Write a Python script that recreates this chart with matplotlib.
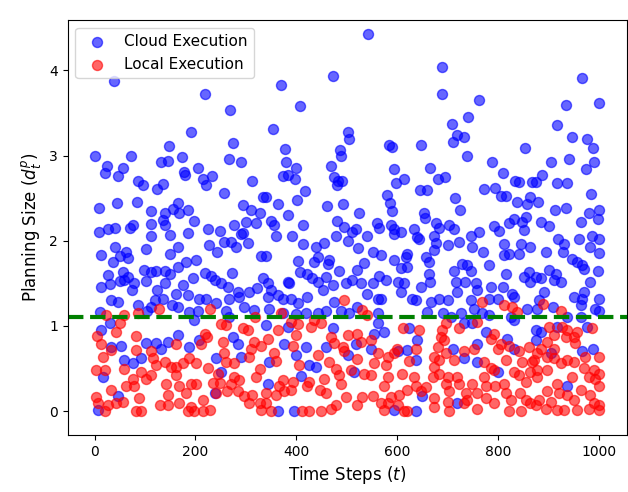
import matplotlib
matplotlib.use("Agg")
import matplotlib.pyplot as plt
import numpy as np

# Cloud execution points: (time step, planning size)
cloud_points = [
(38,3.87),(1,3.00),(24,2.88),(21,2.79),(56,2.85),(46,2.76),(72,3.00),(148,3.11),(132,2.93),(146,2.94),
(87,2.70),(96,2.66),(124,2.61),(135,2.67),(8,2.38),(44,2.44),(85,2.46),(112,2.35),(139,2.32),(155,2.37),
(8,2.10),(26,2.14),(41,2.15),(71,2.15),(77,2.18),(112,2.20),(135,2.24),(139,2.19),(112,2.06),(149,2.07),
(40,1.93),(13,1.83),(51,1.82),(63,1.87),(66,1.80),(101,1.90),(149,1.85),(36,1.75),(26,1.60),(56,1.63),
(66,1.57),(79,1.50),(50,1.53),(59,1.54),(98,1.66),(111,1.63),(122,1.65),(139,1.64),(149,1.61),(102,1.53),
(139,1.50),(30,1.49),(12,1.46),(74,1.42),(124,1.42),(33,1.30),(46,1.28),(86,1.25),(119,1.30),(135,1.32),
(104,1.18),(112,1.22),(10,1.16),(153,1.24),(30,1.03),(13,0.95),(53,0.77),(33,0.75),(102,0.80),(122,0.80),
(132,0.73),(145,0.81),(59,0.60),(76,0.56),(92,0.62),(16,0.40),(46,0.18),(7,0.01),
(218,3.72),(269,3.53),(191,3.28),(274,3.15),(267,2.96),(290,2.93),(173,2.98),(178,2.81),(180,2.77),(206,2.86),
(214,2.73),(233,2.76),(221,2.65),(312,2.70),(257,2.56),(333,2.51),(166,2.44),(168,2.32),(186,2.36),(294,2.42),
(310,2.36),(327,2.32),(198,2.23),(300,2.22),(320,2.21),(277,2.19),(224,2.14),(248,2.11),(294,2.09),(186,2.09),
(290,2.08),(166,1.93),(226,1.95),(243,1.87),(257,1.98),(271,1.98),(281,1.93),(304,1.97),(330,1.82),(182,1.75),
(201,1.77),(165,1.69),(218,1.62),(231,1.59),(238,1.54),(195,1.56),(272,1.62),(251,1.50),(264,1.46),(284,1.40),
(307,1.40),(322,1.44),(333,1.56),(175,1.48),(162,1.38),(185,1.36),(208,1.32),(221,1.32),(241,1.27),(267,1.32),
(287,1.34),(297,1.22),(317,1.19),(165,1.22),(188,1.16),(205,1.18),(261,1.18),(198,1.07),(267,1.10),(165,0.89),
(208,0.83),(187,0.75),(274,0.87),(284,0.79),(241,0.62),(290,0.64),(251,0.46),(238,0.21),
(473,3.94),(370,3.83),(408,3.58),(353,3.31),(503,3.28),(505,3.20),(378,3.08),(487,3.06),(488,2.99),(380,2.93),
(399,2.85),(469,2.88),(373,2.76),(383,2.77),(397,2.73),(475,2.75),(482,2.70),(490,2.70),(480,2.65),(417,2.58),
(340,2.51),(401,2.48),(363,2.43),(460,2.41),(492,2.43),(383,2.30),(350,2.23),(356,2.19),(414,2.19),(481,2.23),
(495,2.16),(360,2.06),(391,2.05),(479,2.06),(511,2.10),
(414,1.96),(439,1.93),(454,1.97),(502,2.00),(340,1.82),(403,1.76),(436,1.75),(442,1.81),(465,1.77),(462,1.73),
(485,1.65),(408,1.63),(422,1.61),(432,1.56),(442,1.52),(458,1.57),(498,1.50),(511,1.54),(343,1.50),(383,1.52),
(386,1.50),(472,1.48),(452,1.42),(350,1.42),(343,1.34),(363,1.36),(373,1.32),(390,1.32),(403,1.27),(421,1.34),
(475,1.28),(345,1.20),(373,1.15),(399,1.14),(419,1.15),(442,1.15),(488,1.18),(505,1.15),(458,1.18),(340,1.01),
(383,0.99),(472,0.97),(376,0.79),(458,0.75),(419,0.75),(502,0.66),(399,0.66),(346,0.58),(426,0.54),(439,0.52),
(409,0.41),(343,0.32),(363,0.00),(396,0.00),
(543,4.43),(688,4.04),(688,3.72),(584,3.13),(589,3.10),(648,3.13),(593,2.84),(665,2.86),(597,2.68),(614,2.72),
(681,2.72),(646,2.60),(660,2.60),(580,2.54),(586,2.44),(589,2.35),(525,2.32),(653,2.32),(655,2.27),(560,2.21),
(564,2.15),(588,2.18),(593,2.14),(634,2.14),(677,2.21),(683,2.15),(518,2.14),(540,2.05),(607,2.10),(640,2.04),
(673,2.05),
(594,2.08),(644,2.02),(523,1.91),(551,1.87),(568,1.83),(620,1.85),(617,1.81),(657,1.81),(663,1.75),(673,1.89),
(677,1.97),(535,1.74),(593,1.77),(607,1.68),(620,1.69),(521,1.66),(564,1.59),(578,1.54),(663,1.61),(665,1.52),
(601,1.52),(614,1.50),(647,1.46),(529,1.50),(551,1.50),(541,1.38),(607,1.40),(630,1.32),(637,1.30),(561,1.32),
(568,1.32),(667,1.28),(683,1.32),(521,1.22),(561,1.15),(660,1.16),(690,1.15),(561,1.03),(574,0.93),(554,0.91),
(518,0.79),(624,0.97),(640,0.83),(549,0.73),(601,0.71),(620,0.72),(637,0.60),(515,0.46),(650,0.18),(594,0.01),
(637,0.00),
(762,3.65),(741,3.45),(708,3.37),(719,3.24),(733,3.22),(710,3.16),(853,3.09),(739,3.00),(787,2.93),(809,2.79),
(833,2.70),(842,2.69),(694,2.75),(868,2.69),(772,2.61),(794,2.62),(805,2.52),(815,2.53),(714,2.50),(725,2.36),
(838,2.45),(857,2.43),(863,2.51),(855,2.28),(832,2.26),(822,2.21),(848,2.22),(791,2.17),(802,2.11),(703,2.18),
(713,2.14),(746,2.06),(762,2.10),(851,2.13),
(700,1.95),(723,1.98),(749,1.93),(771,1.87),(812,1.96),(812,1.83),(822,1.85),(842,1.84),(846,1.96),(863,1.93),
(729,1.73),(738,1.72),(713,1.65),(746,1.64),(782,1.72),(815,1.61),(851,1.57),(861,1.63),(863,1.52),(716,1.52),
(734,1.52),(756,1.50),(759,1.42),(785,1.46),(809,1.46),(719,1.40),(701,1.30),(746,1.30),(782,1.32),(799,1.32),
(828,1.38),(832,1.34),(858,1.20),(752,1.20),(726,1.15),(707,1.11),(769,1.15),(782,1.13),(825,1.11),(832,1.07),
(749,1.03),(733,1.03),(775,0.93),(818,0.85),(759,0.79),(832,0.73),(710,0.73),(733,0.62),(759,0.58),(799,0.46),
(719,0.09),
(967,3.91),(934,3.59),(1000,3.62),(916,3.36),(946,3.22),(977,3.19),(989,3.09),(904,2.92),(941,2.96),(991,2.93),
(975,2.84),(887,2.77),(875,2.69),(916,2.68),(937,2.68),(984,2.55),(879,2.45),(912,2.36),(934,2.38),(980,2.32),
(1000,2.36),(998,2.26),(964,2.22),(886,2.22),(901,2.17),(919,2.02),(960,2.02),(987,2.06),(1000,2.02),
(931,1.96),(929,1.87),(983,1.93),(1000,1.86),(894,1.87),(947,1.78),(957,1.75),(967,1.71),(970,1.67),(901,1.66),
(914,1.61),(998,1.65),(875,1.57),(886,1.56),(911,1.54),(925,1.52),(983,1.52),(891,1.40),(970,1.40),(950,1.34),
(967,1.32),(1000,1.32),(881,1.30),(964,1.25),(993,1.20),(1000,1.17),(878,1.20),(908,1.22),(937,1.10),(964,1.10),
(875,0.95),(885,0.93),(917,0.99),(977,0.99),(875,0.83),(967,0.71),(989,0.73),(904,0.68),(937,0.30),
]

# Local execution points: (time step, planning size)
local_points = [
(127,1.20),(23,1.13),(59,1.13),(86,1.15),(5,0.88),(13,0.79),(43,0.93),(50,1.03),(83,0.88),(112,0.71),
(83,0.72),(32,0.72),(16,0.64),(115,0.62),(122,0.54),(139,0.58),(152,0.52),(3,0.48),(20,0.48),(58,0.49),
(92,0.46),(112,0.42),(76,0.38),(63,0.30),(79,0.30),(102,0.38),(142,0.32),(33,0.25),(3,0.17),(89,0.15),
(145,0.19),(7,0.09),(26,0.07),(43,0.09),(56,0.11),(20,0.00),(83,0.00),(92,0.00),(129,0.07),(145,0.07),
(228,1.20),(318,1.11),(251,1.02),(261,1.01),(294,0.97),(304,0.95),(162,0.79),(218,0.91),(223,0.87),(211,0.79),
(254,0.81),(317,0.81),(310,0.73),(330,0.77),(256,0.68),(307,0.64),(261,0.58),(277,0.57),(188,0.62),(175,0.56),
(201,0.57),(162,0.52),(224,0.50),(244,0.44),(162,0.42),(327,0.49),(320,0.40),(277,0.40),(287,0.36),(201,0.32),
(191,0.32),(234,0.33),(248,0.33),(271,0.32),(168,0.30),(182,0.21),(241,0.21),(263,0.24),(284,0.24),(297,0.18),
(313,0.19),(214,0.13),(168,0.09),(191,0.05),(307,0.09),(327,0.09),(185,0.00),(198,0.00),(214,0.00),(228,0.01),
(329,0.01),
(494,1.31),(370,1.15),(436,1.07),(448,1.03),(403,1.02),(390,1.05),(429,0.99),(363,0.95),(343,0.85),(399,0.89),
(393,0.77),(469,0.87),(475,0.80),(502,0.89),(492,0.75),(495,0.71),(356,0.68),(442,0.66),(360,0.59),(465,0.58),
(406,0.54),(479,0.49),(485,0.42),(508,0.48),(455,0.38),(488,0.32),(366,0.30),(373,0.36),(393,0.34),(426,0.34),
(422,0.29),(446,0.25),(390,0.25),(376,0.24),(360,0.19),(340,0.21),(458,0.21),(479,0.07),(498,0.17),(340,0.09),
(350,0.00),(412,0.00),(426,0.00),(449,0.00),(469,0.03),
(531,1.19),(541,1.13),(612,0.98),(644,0.95),(688,0.95),(521,0.91),(549,0.83),(528,0.81),(600,0.73),(637,0.73),
(680,0.75),(687,0.87),(561,0.68),(594,0.68),(673,0.64),(521,0.61),(581,0.64),(624,0.59),(554,0.56),(578,0.54),
(673,0.52),(683,0.60),(535,0.43),(548,0.42),(581,0.40),(610,0.43),(634,0.40),(670,0.40),(683,0.44),(574,0.30),
(637,0.30),(657,0.28),(620,0.25),(647,0.23),(531,0.17),(551,0.18),(588,0.17),(604,0.19),(673,0.15),(521,0.07),
(568,0.09),(581,0.09),(601,0.07),(614,0.00),(620,0.00),(574,0.01),(673,0.05),
(769,1.28),(812,1.24),(828,1.22),(838,1.16),(696,1.03),(723,0.97),(759,1.05),(792,0.91),(785,0.85),(805,0.79),
(822,0.77),(799,0.73),(861,0.75),(842,0.71),(752,0.73),(733,0.70),(693,0.83),(696,0.68),(713,0.60),(772,0.58),
(815,0.60),(848,0.58),(868,0.58),(785,0.50),(792,0.48),(832,0.46),(842,0.42),(864,0.46),(700,0.40),(719,0.40),
(723,0.32),(696,0.32),(772,0.40),(749,0.32),(776,0.30),(793,0.30),(812,0.32),(855,0.34),(844,0.21),(703,0.23),
(737,0.21),(759,0.21),(815,0.21),(739,0.13),(776,0.15),(825,0.13),(855,0.13),(700,0.11),(733,0.09),(792,0.09),
(864,0.09),(703,0.00),(822,0.00),(845,0.00),(759,0.03),
(888,1.26),(925,1.17),(901,0.99),(927,0.99),(937,0.95),(957,0.93),(987,0.98),(911,0.89),(934,0.87),(950,0.87),
(897,0.81),(952,0.80),(885,0.73),(911,0.73),(878,0.68),(897,0.64),(911,0.62),(973,0.64),(1000,0.64),(871,0.60),
(937,0.60),(925,0.56),(950,0.58),(878,0.48),(897,0.48),(970,0.50),(990,0.48),(1000,0.44),(878,0.40),(947,0.40),
(980,0.40),(993,0.38),(917,0.32),(1000,0.30),(897,0.23),(921,0.21),(937,0.19),(964,0.25),(983,0.19),(881,0.13),
(904,0.11),(950,0.13),(990,0.09),(1000,0.07),(875,0.07),(894,0.03),(917,0.01),(931,0.01),(957,0.01),(980,0.03),
(1000,0.01),
]

threshold = 1.1

cloud = np.array(cloud_points, dtype=float)
local = np.array(local_points, dtype=float)

fig = plt.figure(figsize=(6.28, 4.92), dpi=100)
ax = fig.add_axes([0.108, 0.116, 0.890, 0.843])

ax.scatter(cloud[:, 0], cloud[:, 1], color='blue', alpha=0.6, s=52, label='Cloud Execution')
ax.scatter(local[:, 0], local[:, 1], color='red', alpha=0.6, s=52, label='Local Execution')
ax.axhline(threshold, color='green', linestyle='--', linewidth=3)

ax.set_xlim(-53, 1055)
ax.set_ylim(-0.28, 4.59)
ax.set_xlabel('Time Steps ($t$)', fontsize=12)
ax.set_ylabel('Planning Size ($d_t^p$)', fontsize=12)
ax.tick_params(labelsize=10)
ax.legend(loc='upper left', fontsize=11)

fig.savefig('out.png', dpi=100)
